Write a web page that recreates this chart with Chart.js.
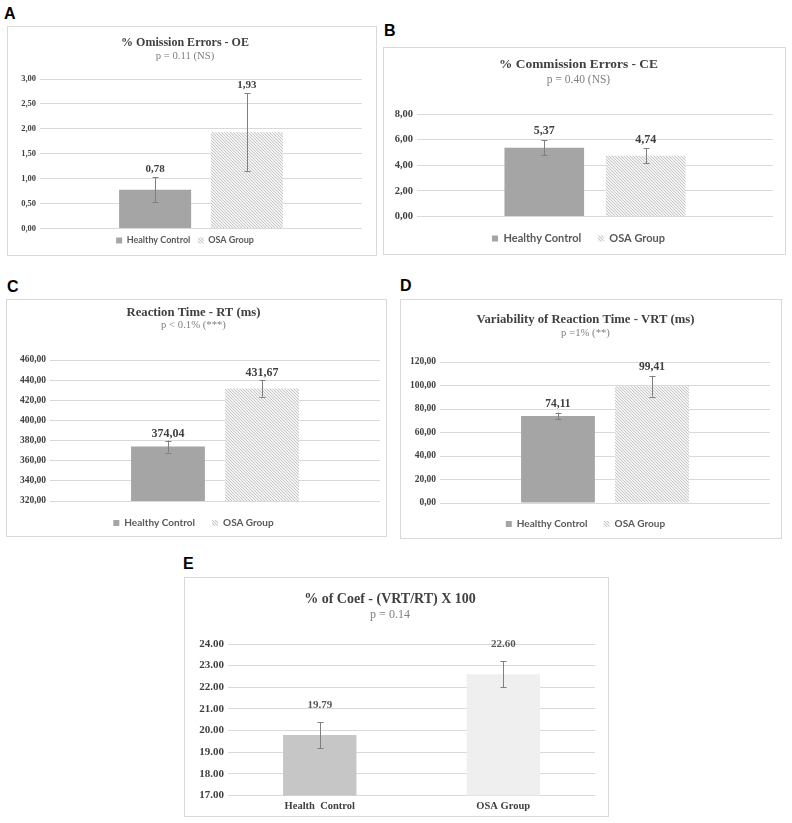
<!DOCTYPE html>
<html>
<head>
<meta charset="utf-8">
<script src="https://cdn.jsdelivr.net/npm/chart.js@4.4.1/dist/chart.umd.min.js"></script>
<style>
  html, body { margin: 0; padding: 0; background: #ffffff; }
  body { width: 792px; height: 823px; position: relative; overflow: hidden; }
  .letter { position: absolute; font-family: "Liberation Sans", Arial, sans-serif; font-weight: bold; font-size: 16px; line-height: 16px; color: #000; }
  .box { position: absolute; box-sizing: border-box; border: 1px solid #d9d9d9; background: #fff; }
  .box canvas { position: absolute; left: 0; top: 0; }
</style>
</head>
<body>
<div class="letter" style="left:4px;top:6px">A</div>
<div class="box" style="left:7px;top:26px;width:370px;height:230px"><canvas id="cA" width="368" height="228"></canvas></div>

<div class="letter" style="left:384px;top:23px">B</div>
<div class="box" style="left:383px;top:47px;width:403px;height:208px"><canvas id="cB" width="401" height="206"></canvas></div>

<div class="letter" style="left:7px;top:279px">C</div>
<div class="box" style="left:6px;top:299px;width:381px;height:238px"><canvas id="cC" width="379" height="236"></canvas></div>

<div class="letter" style="left:400px;top:278px">D</div>
<div class="box" style="left:400px;top:299px;width:382px;height:240px"><canvas id="cD" width="380" height="238"></canvas></div>

<div class="letter" style="left:183px;top:556px">E</div>
<div class="box" style="left:184px;top:577px;width:425px;height:240px"><canvas id="cE" width="423" height="238"></canvas></div>

<script>
// ---------------- DATA ----------------
const groups = ['Healthy Control', 'OSA Group'];
const coefCategories = ['Health  Control', 'OSA Group'];

const omissionMeans = [0.78, 1.93];
const omissionErrors = [0.245, 0.78];
const omissionTicks = [0, 3, 0.5];          // min, max, step

const commissionMeans = [5.37, 4.74];
const commissionErrors = [0.57, 0.57];
const commissionTicks = [0, 8, 2];

const rtMeans = [374.04, 431.67];
const rtErrors = [6, 8.2];
const rtTicks = [320, 460, 20];

const vrtMeans = [74.11, 99.41];
const vrtErrors = [2.8, 8.8];
const vrtTicks = [0, 120, 20];

const coefMeans = [19.79, 22.60];
const coefErrors = [0.6, 0.6];
const coefTicks = [17, 24, 1];

const titles = {
  A: ['% Omission Errors - OE', 'p = 0.11 (NS)'],
  B: ['% Commission Errors - CE', 'p = 0.40 (NS)'],
  C: ['Reaction Time - RT (ms)', 'p < 0.1% (***)'],
  D: ['Variability of Reaction Time - VRT (ms)', 'p =1% (**)'],
  E: ['% of Coef - (VRT/RT) X 100', 'p = 0.14']
};

// ---------------- STYLE HELPERS ----------------
const SERIF = '"Liberation Serif", "Times New Roman", serif';
const SANS = 'Lato, "Liberation Sans", sans-serif';
const commaFmt = v => Number(v).toFixed(2).replace('.', ',');
const dotFmt = v => Number(v).toFixed(2);

function makeHatch() {
  const c = document.createElement('canvas');
  c.width = 3; c.height = 3;
  const g = c.getContext('2d');
  g.fillStyle = '#f3f3f3';
  g.fillRect(0, 0, 3, 3);
  g.fillStyle = '#c6c6c6';
  for (let i = 0; i < 3; i++) g.fillRect(i, i, 1, 1);
  return g.createPattern(c, 'repeat');
}
const hatch = makeHatch();

function extrasPlugin(fmt, labelFont, labelOffset, labelColor) {
  return {
    id: 'barExtras',
    afterDatasetsDraw(chart) {
      const ctx = chart.ctx;
      const ys = chart.scales.y;
      chart.data.datasets.forEach((ds, di) => {
        const meta = chart.getDatasetMeta(di);
        meta.data.forEach((bar, j) => {
          const v = ds.data[j];
          const e = ds.errors[j];
          const yt = ys.getPixelForValue(v + e);
          const yb = ys.getPixelForValue(v - e);
          const x = Math.round(bar.x) + 0.5;
          ctx.save();
          ctx.strokeStyle = '#7f7f7f';
          ctx.lineWidth = 1;
          ctx.beginPath();
          ctx.moveTo(x, yt); ctx.lineTo(x, yb);
          ctx.moveTo(x - 3, Math.round(yt) + 0.5); ctx.lineTo(x + 3, Math.round(yt) + 0.5);
          ctx.moveTo(x - 3, Math.round(yb) + 0.5); ctx.lineTo(x + 3, Math.round(yb) + 0.5);
          ctx.stroke();
          ctx.fillStyle = labelColor;
          ctx.font = 'bold ' + labelFont + 'px ' + SERIF;
          ctx.textAlign = 'center';
          ctx.textBaseline = 'middle';
          ctx.fillText(fmt(v), bar.x, yt - labelOffset);
          ctx.restore();
        });
      });
    }
  };
}

function pairChart(id, means, errors, ticks, t, p) {
  const [tmin, tmax, tstep] = ticks;
  new Chart(document.getElementById(id), {
    type: 'bar',
    data: {
      labels: [''],
      datasets: [
        { label: groups[0], data: [means[0]], errors: [errors[0]], backgroundColor: '#a5a5a5', borderWidth: 0,
          categoryPercentage: 0.57, barPercentage: 0.785 },
        { label: groups[1], data: [means[1]], errors: [errors[1]], backgroundColor: hatch, borderWidth: 0,
          categoryPercentage: 0.57, barPercentage: 0.785 }
      ]
    },
    options: {
      responsive: false,
      animation: false,
      layout: { padding: { top: 0, left: 0, right: p.right, bottom: p.lpb } },
      scales: {
        x: { display: false },
        y: {
          min: tmin, max: tmax,
          afterFit: s => { s.width = p.yW; },
          grid: { color: '#d9d9d9', drawTicks: false },
          border: { display: false },
          ticks: { stepSize: tstep, padding: 4, color: '#404040',
                   font: { family: SERIF, size: p.tick, weight: 'bold' },
                   callback: v => commaFmt(v) }
        }
      },
      plugins: {
        tooltip: { enabled: false },
        title: { display: true, text: t[0], color: '#404040',
                 font: { family: SERIF, size: p.ft, weight: 'bold', lineHeight: 1 },
                 padding: { top: p.tp, bottom: 0 } },
        subtitle: { display: true, text: t[1], color: '#808080',
                    font: { family: SERIF, size: p.fs, weight: 'normal', lineHeight: 1 },
                    padding: { top: p.sp, bottom: p.sb } },
        legend: { display: true, position: 'bottom',
                  labels: { boxWidth: 6, boxHeight: 6, padding: p.lp, color: '#595959',
                            font: { family: SANS, size: p.lf, weight: 'bold' } } }
      }
    },
    plugins: [extrasPlugin(commaFmt, p.vf, p.vo, '#404040')]
  });
}

pairChart('cA', omissionMeans, omissionErrors, omissionTicks, titles.A,
  { right: 14, lpb: 0, yW: 32, tick: 8.5, ft: 12, tp: 10, fs: 10.7, sp: 1.65, sb: 17.65, lf: 9, lp: 7.5, vf: 11, vo: 8 });
pairChart('cB', commissionMeans, commissionErrors, commissionTicks, titles.B,
  { right: 12, lpb: 0, yW: 33, tick: 10.5, ft: 13.4, tp: 10.3, fs: 11.5, sp: 2.55, sb: 28.25, lf: 11, lp: 16.5, vf: 12, vo: 9 });
pairChart('cC', rtMeans, rtErrors, rtTicks, titles.C,
  { right: 6, lpb: -2, yW: 43, tick: 9.5, ft: 12.7, tp: 6.65, fs: 10.7, sp: 0.3, sb: 29.65, lf: 10, lp: 17, vf: 12, vo: 7 });
pairChart('cD', vrtMeans, vrtErrors, vrtTicks, titles.D,
  { right: 11, lpb: -1, yW: 39, tick: 9.5, ft: 12.7, tp: 13.65, fs: 10.7, sp: 1.3, sb: 23.65, lf: 10, lp: 16, vf: 11.5, vo: 9 });

// Panel E
(function () {
  const [tmin, tmax, tstep] = coefTicks;
  new Chart(document.getElementById('cE'), {
    type: 'bar',
    data: {
      labels: coefCategories,
      datasets: [{ label: '% of Coef', data: coefMeans, errors: coefErrors,
                   backgroundColor: ['#c6c6c6', '#efefef'], borderWidth: 0,
                   categoryPercentage: 0.4, barPercentage: 1 }]
    },
    options: {
      responsive: false,
      animation: false,
      layout: { padding: { top: 0, left: 0, right: 13, bottom: -2 } },
      scales: {
        x: { grid: { display: false, drawTicks: false }, border: { display: false },
             ticks: { padding: 5, color: '#404040', font: { family: SERIF, size: 10.5, weight: 'bold' } } },
        y: {
          min: tmin, max: tmax,
          afterFit: s => { s.width = 43; },
          grid: { color: '#d9d9d9', drawTicks: false },
          border: { display: false },
          ticks: { stepSize: tstep, padding: 4, color: '#404040',
                   font: { family: SERIF, size: 11, weight: 'bold' },
                   callback: v => dotFmt(v) }
        }
      },
      plugins: {
        tooltip: { enabled: false },
        legend: { display: false },
        title: { display: true, text: titles.E[0], color: '#404040',
                 font: { family: SERIF, size: 14, weight: 'bold', lineHeight: 1 },
                 padding: { top: 14, bottom: 0 } },
        subtitle: { display: true, text: titles.E[1], color: '#808080',
                    font: { family: SERIF, size: 12, weight: 'normal', lineHeight: 1 },
                    padding: { top: 3, bottom: 23 } }
      }
    },
    plugins: [extrasPlugin(dotFmt, 11, 17, '#595959')]
  });
})();
</script>
</body>
</html>
